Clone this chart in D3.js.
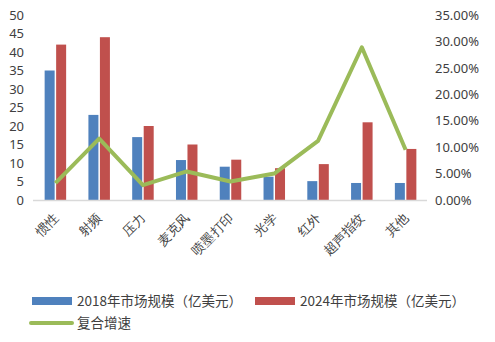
<!DOCTYPE html>
<html>
<head>
<meta charset="utf-8">
<script src="https://cdn.jsdelivr.net/npm/d3@7/dist/d3.min.js"></script>
<style>
  html, body { margin: 0; padding: 0; background: #fff; }
  svg { display: block; font-family: "Noto Sans CJK SC", "Noto Sans", sans-serif; }
</style>
</head>
<body>
<svg id="chart" width="495" height="342"></svg>
<script>
// Sensor market size by category (USD 100M) and compound growth rate
const categories = ["惯性", "射频", "压力", "麦克风", "喷墨打印", "光学", "红外", "超声指纹", "其他"];
const size2018 = [35, 23, 17, 10.8, 9, 6.3, 5.1, 4.6, 4.6];
const size2024 = [42, 44, 20, 15, 10.9, 8.6, 9.7, 21, 13.8];
const growth = [0.032, 0.116, 0.028, 0.054, 0.035, 0.05, 0.112, 0.289, 0.095];
const leftTicks = [0, 5, 10, 15, 20, 25, 30, 35, 40, 45, 50];
const rightTicks = [0, 0.05, 0.10, 0.15, 0.20, 0.25, 0.30, 0.35];
const seriesNames = ["2018年市场规模（亿美元）", "2024年市场规模（亿美元）", "复合增速"];
const colors = ["#4F81BD", "#C0504D", "#9BBB59"];

const svg = d3.select("#chart");
const plot = { left: 33, right: 427, top: 15, bottom: 200 };
const textColor = "#404040";

const x = d3.scaleBand().domain(categories).range([plot.left, plot.right]).padding(0);
const yL = d3.scaleLinear().domain([0, 50]).range([plot.bottom, plot.top]);
const yR = d3.scaleLinear().domain([0, 0.35]).range([plot.bottom, plot.top]);

const barW = 10, gap = 1.5;

// bars
const g = svg.append("g");
[size2018, size2024].forEach((vals, si) => {
  g.selectAll(null).data(vals).enter().append("rect")
    .attr("x", (d, i) => x(categories[i]) + x.bandwidth() / 2 - barW - gap / 2 + si * (barW + gap) + 0.5)
    .attr("y", d => yL(d))
    .attr("width", barW)
    .attr("height", d => yL(0) - yL(d))
    .attr("fill", colors[si]);
});

// baseline
svg.append("line")
  .attr("x1", plot.left).attr("x2", plot.right)
  .attr("y1", yL(0) + 0.5).attr("y2", yL(0) + 0.5)
  .attr("stroke", "#d9d9d9").attr("stroke-width", 1.5);

// growth line
const line = d3.line()
  .x((d, i) => x(categories[i]) + x.bandwidth() / 2 + 0.5)
  .y(d => yR(d));
svg.append("path").datum(growth)
  .attr("d", line)
  .attr("fill", "none")
  .attr("stroke", colors[2])
  .attr("stroke-width", 4)
  .attr("stroke-linejoin", "round");

// left axis
const axL = svg.append("g").attr("transform", `translate(${plot.left - 9},0)`)
  .call(d3.axisLeft(yL).tickValues(leftTicks).tickSize(0).tickPadding(0));
axL.select(".domain").remove();
axL.selectAll("text").attr("fill", textColor).style("font-size", "13px")
  .style("font-family", "'Noto Sans', 'DejaVu Sans', sans-serif");

// right axis
const axR = svg.append("g").attr("transform", `translate(${plot.right + 8},0)`)
  .call(d3.axisRight(yR).tickValues(rightTicks).tickSize(0).tickPadding(0)
    .tickFormat(d => (d * 100).toFixed(2) + "%"));
axR.select(".domain").remove();
axR.selectAll("text").attr("fill", textColor).style("font-size", "13px")
  .style("font-family", "'Noto Sans', 'DejaVu Sans', sans-serif");

// category labels, rotated
const axX = svg.append("g").attr("transform", `translate(0,${plot.bottom})`)
  .call(d3.axisBottom(x).tickSize(0).tickPadding(0));
axX.select(".domain").remove();
axX.selectAll("text")
  .attr("fill", textColor)
  .style("font-size", "13px")
  .attr("text-anchor", "end")
  .attr("dy", "0")
  .attr("transform", "translate(4,19) rotate(-45)");

// legend
const lg = svg.append("g").style("font-size", "13.5px").attr("fill", textColor);
const items = [
  { x: 32, y: 301, type: "rect", c: colors[0], t: seriesNames[0] },
  { x: 255, y: 301, type: "rect", c: colors[1], t: seriesNames[1] },
  { x: 30, y: 323, type: "line", c: colors[2], t: seriesNames[2] }
];
items.forEach(it => {
  if (it.type === "rect") {
    lg.append("rect").attr("x", it.x).attr("y", it.y - 4).attr("width", 40).attr("height", 8).attr("fill", it.c);
  } else {
    lg.append("line").attr("x1", it.x + 1).attr("x2", it.x + 42).attr("y1", it.y).attr("y2", it.y)
      .attr("stroke", it.c).attr("stroke-width", 4).attr("stroke-linecap", "round");
  }
  lg.append("text").attr("x", (it.type === "rect" ? it.x + 45 : 77)).attr("y", it.y)
    .attr("dy", "0.35em").attr("fill", textColor).text(it.t);
});
</script>
</body>
</html>
